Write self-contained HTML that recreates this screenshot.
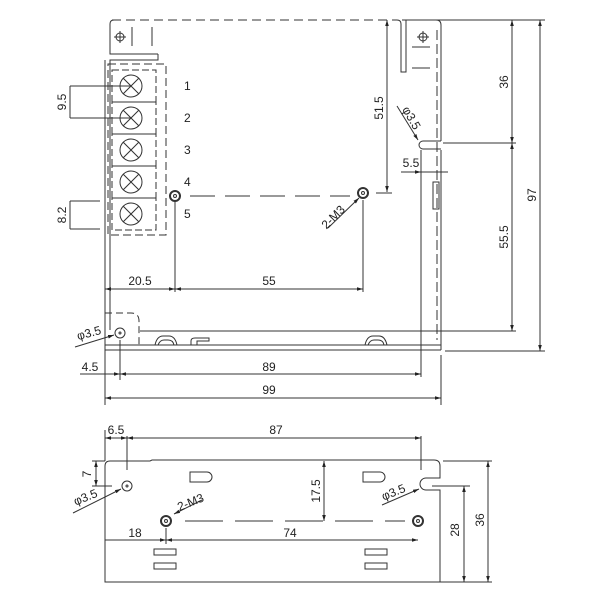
<!DOCTYPE html>
<html><head><meta charset="utf-8"><style>body{margin:0;background:#fff}svg{display:block}text{font-family:"Liberation Sans",sans-serif;font-size:12px;fill:#222}</style></head><body>
<svg width="600" height="600" viewBox="0 0 600 600" xmlns="http://www.w3.org/2000/svg">
<defs><marker id="a" viewBox="0 0 10 10" refX="10" refY="5" markerWidth="6" markerHeight="6" orient="auto-start-reverse"><path d="M0,2 L10,5 L0,8z" fill="#222"/></marker></defs>
<g stroke="#333" stroke-width="1" fill="none">
<!-- TOP VIEW body -->
<path d="M112,20 H397" stroke-dasharray="9,5"/>
<path d="M397,20 q4,0 4,4 V72 H406 V20"/>
<path d="M411,20 H436 q5,0 5,5 V141"/>
<path d="M441,150 V350"/>
<path d="M437,30 V340" stroke-dasharray="10,4"/>
<rect x="433" y="182" width="6" height="27"/>
<circle cx="423" cy="37" r="4"/><path d="M423,31V43M417,37H429"/>
<path d="M412,47H430M412,68H430"/>
<path d="M441,141 H423 a4,4 0 0 0 0,8 H441"/>
<!-- top-left bracket -->
<path d="M158,54 H110 V24 q0,-4 4,-4"/>
<circle cx="120" cy="37" r="4"/><path d="M120,31V43M114,37H126"/>
<path d="M132,27V46M152,27V46"/>
<path d="M158,54 v6 H110 V330"/>
<path d="M105,60 V350"/>
<rect x="108" y="64" width="58" height="171" stroke-dasharray="8,4"/>
<g>
<rect x="112" y="70" width="44" height="32" stroke-dasharray="7,3"/><circle cx="131" cy="86" r="11"/><path d="M123,78l16,16M139,78l-16,16"/>
<rect x="112" y="102" width="44" height="32" stroke-dasharray="7,3"/><circle cx="131" cy="118" r="11"/><path d="M123,110l16,16M139,110l-16,16"/>
<rect x="112" y="134" width="44" height="32" stroke-dasharray="7,3"/><circle cx="131" cy="150" r="11"/><path d="M123,142l16,16M139,142l-16,16"/>
<rect x="112" y="166" width="44" height="32" stroke-dasharray="7,3"/><circle cx="131" cy="182" r="11"/><path d="M123,174l16,16M139,174l-16,16"/>
<rect x="112" y="198" width="44" height="32" stroke-dasharray="7,3"/><circle cx="131" cy="214" r="11"/><path d="M123,206l16,16M139,206l-16,16"/>
</g>
<!-- mount holes -->
<circle cx="175" cy="196" r="5" stroke-width="2"/><circle cx="175" cy="196" r="1.5"/>
<circle cx="363" cy="193" r="5" stroke-width="2"/><circle cx="363" cy="193" r="1.5"/>
<path d="M190,196 H350" stroke-dasharray="25,10"/>
<path d="M376,193 H392"/>
<path d="M328,228 L359,198" marker-end="url(#a)"/>
<!-- dims top -->
<path d="M70,86H131M70,118H131M70,86V118"/>
<path d="M70,201H100M70,229H100M70,201V229"/>
<path d="M387,20V192" marker-start="url(#a)" marker-end="url(#a)"/>
<path d="M397,106 L418,140" marker-end="url(#a)"/>
<path d="M401,172H448"/><path d="M405,172H421" marker-end="url(#a)"/>
<path d="M421,150V377"/>
<path d="M175,200V292M363,200V292"/>
<path d="M105,289H175" marker-start="url(#a)" marker-end="url(#a)"/>
<path d="M175,289H363" marker-start="url(#a)" marker-end="url(#a)"/>
<path d="M402,20H545M443,143H516M140,331H516M445,351H545"/>
<path d="M512,20V143" marker-start="url(#a)" marker-end="url(#a)"/>
<path d="M512,143V331" marker-start="url(#a)" marker-end="url(#a)"/>
<path d="M540,20V351" marker-start="url(#a)" marker-end="url(#a)"/>
<!-- bottom of top view -->
<path d="M105,345H441M105,350H441"/>
<path d="M105,313H131 q8,0 8,8 V345" stroke-dasharray="7,4"/>
<circle cx="120" cy="333" r="5"/><circle cx="120" cy="333" r="1"/>
<path d="M75,347 L114,335" marker-end="url(#a)"/>
<path d="M155,345 q2,-9 8,-9 h6 q6,0 8,9 M158,345 q2,-5 6,-5 h4 q5,0 6,5"/>
<path d="M191,345 v-4 q0,-3 4,-3 h14 v3 h-12 v4"/>
<path d="M365,345 q2,-9 8,-9 h6 q6,0 8,9 M368,345 q2,-5 6,-5 h4 q5,0 6,5"/>
<path d="M120,340V380M105,350V405M441,355V405"/>
<path d="M80,374H120" marker-end="url(#a)"/>
<path d="M120,374H421" marker-start="url(#a)" marker-end="url(#a)"/>
<path d="M105,398H441" marker-start="url(#a)" marker-end="url(#a)"/>
<!-- BOTTOM VIEW -->
<path d="M105,582 V466 q0,-5 5,-5 H150 l2,-1 H434 q6,0 6,6 V478 H426 a6,6 0 0 0 0,12 H440 V582 Z"/>
<circle cx="127" cy="486" r="5"/><circle cx="127" cy="486" r="1"/>
<path d="M190,472h17a5,5 0 0 1 0,10h-17z"/>
<path d="M363,472h17a5,5 0 0 1 0,10h-17z"/>
<rect x="154" y="549" width="22" height="6"/><rect x="154" y="563" width="22" height="6"/>
<rect x="365" y="549" width="22" height="6"/><rect x="365" y="563" width="22" height="6"/>
<circle cx="166" cy="521" r="5" stroke-width="2"/><circle cx="166" cy="521" r="1.5"/>
<circle cx="418" cy="521" r="5" stroke-width="2"/><circle cx="418" cy="521" r="1.5"/>
<path d="M185,521H405" stroke-dasharray="38,12"/>
<path d="M324,461V521" marker-start="url(#a)" marker-end="url(#a)"/>
<path d="M105,430V461M127,436V470M421,436V470"/>
<path d="M105,438H127" marker-start="url(#a)" marker-end="url(#a)"/>
<path d="M127,438H421" marker-start="url(#a)" marker-end="url(#a)"/>
<path d="M92,461H105M92,486H112"/>
<path d="M96,461V486" marker-start="url(#a)" marker-end="url(#a)"/>
<path d="M73,513 L121,489" marker-end="url(#a)"/>
<path d="M202,500 L174,514" marker-end="url(#a)"/>
<path d="M382,505 L419,489" marker-end="url(#a)"/>
<path d="M166,528V544"/>
<path d="M105,540H166" marker-end="url(#a)"/>
<path d="M166,540H418" marker-start="url(#a)" marker-end="url(#a)"/>
<path d="M443,461H492M432,486H470M440,582H492"/>
<path d="M464,486V582" marker-start="url(#a)" marker-end="url(#a)"/>
<path d="M488,461V582" marker-start="url(#a)" marker-end="url(#a)"/>
</g>
<g>
<text x="184" y="90">1</text><text x="184" y="122">2</text><text x="184" y="154">3</text><text x="184" y="186">4</text><text x="184" y="218">5</text>
<text transform="translate(66,102) rotate(-90)" text-anchor="middle">9.5</text>
<text transform="translate(66,215) rotate(-90)" text-anchor="middle">8.2</text>
<text transform="translate(383,108) rotate(-90)" text-anchor="middle">51.5</text>
<text transform="translate(336,220) rotate(-45)" text-anchor="middle">2-M3</text>
<text transform="translate(408,120) rotate(60)" text-anchor="middle">φ3.5</text>
<text x="411" y="167" text-anchor="middle">5.5</text>
<text transform="translate(508,82) rotate(-90)" text-anchor="middle">36</text>
<text transform="translate(508,237) rotate(-90)" text-anchor="middle">55.5</text>
<text transform="translate(536,195) rotate(-90)" text-anchor="middle">97</text>
<text x="140" y="285" text-anchor="middle">20.5</text>
<text x="269" y="285" text-anchor="middle">55</text>
<text transform="translate(90,337) rotate(-15)" text-anchor="middle">φ3.5</text>
<text x="90" y="371" text-anchor="middle">4.5</text>
<text x="269" y="371" text-anchor="middle">89</text>
<text x="269" y="394" text-anchor="middle">99</text>
<text x="116" y="434" text-anchor="middle">6.5</text>
<text x="276" y="434" text-anchor="middle">87</text>
<text transform="translate(91,474) rotate(-90)" text-anchor="middle">7</text>
<text transform="translate(87,501) rotate(-22)" text-anchor="middle">φ3.5</text>
<text transform="translate(192,506) rotate(-22)" text-anchor="middle">2-M3</text>
<text transform="translate(320,491) rotate(-90)" text-anchor="middle">17.5</text>
<text transform="translate(395,496) rotate(-22)" text-anchor="middle">φ3.5</text>
<text x="135" y="537" text-anchor="middle">18</text>
<text x="290" y="537" text-anchor="middle">74</text>
<text transform="translate(459,530) rotate(-90)" text-anchor="middle">28</text>
<text transform="translate(484,520) rotate(-90)" text-anchor="middle">36</text>
</g>
</svg>
</body></html>
